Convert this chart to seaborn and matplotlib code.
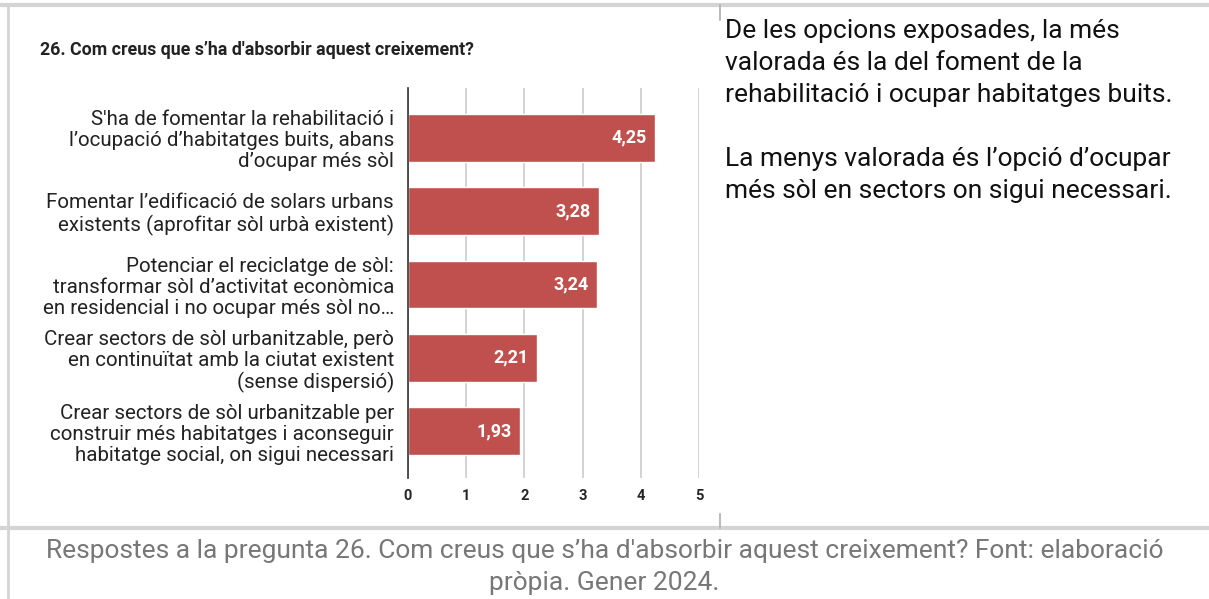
import matplotlib
matplotlib.use("Agg")
import matplotlib.pyplot as plt
import seaborn as sns
import pandas as pd
from matplotlib.lines import Line2D

categories = [
    "S'ha de fomentar la rehabilitació i\nl’ocupació d’habitatges buits, abans\nd’ocupar més sòl",
    "Fomentar l’edificació de solars urbans\nexistents (aprofitar sòl urbà existent)",
    "Potenciar el reciclatge de sòl:\ntransformar sòl d’activitat econòmica\nen residencial i no ocupar més sòl no…",
    "Crear sectors de sòl urbanitzable, però\nen continuïtat amb la ciutat existent\n(sense dispersió)",
    "Crear sectors de sòl urbanitzable per\nconstruir més habitatges i aconseguir\nhabitatge social, on sigui necessari",
]
values = [4.25, 3.28, 3.24, 2.21, 1.93]
value_labels = ["4,25", "3,28", "3,24", "2,21", "1,93"]
x_ticks = [0, 1, 2, 3, 4, 5]

df = pd.DataFrame({"opcio": categories, "valor": values})

sns.set_style("white")
plt.rcParams["font.family"] = ["Roboto", "DejaVu Sans"]

fig = plt.figure(figsize=(12.09, 5.99), dpi=100)
ax = fig.add_axes([408 / 1209, 1 - 478 / 599, 291 / 1209, 390 / 599])

sns.barplot(data=df, x="valor", y="opcio", color="#c0504d", width=0.65,
            saturation=1, ax=ax, zorder=3)

ax.set_xlim(0, 5)
ax.set_ylim(4.64, -0.68)
ax.set_xticks(x_ticks)
ax.set_xticklabels([str(t) for t in x_ticks], fontsize=10.5, fontweight="bold")
ax.set_yticks(range(len(categories)))
ax.set_yticklabels(categories, fontsize=14.8, color="#222222", linespacing=1.14)
ax.tick_params(axis="y", length=0, pad=10)
ax.tick_params(axis="x", length=0, pad=8)
ax.set_xlabel("")
ax.set_ylabel("")
ax.grid(axis="x", color="#cccccc", linewidth=1.2, zorder=0)
for s in ["top", "right", "bottom"]:
    ax.spines[s].set_visible(False)
ax.spines["left"].set_color("#333333")
ax.spines["left"].set_linewidth(1.2)
ax.spines["left"].set_zorder(4)

for i, (v, lab) in enumerate(zip(values, value_labels)):
    ax.text(v - 0.14, i, lab, ha="right", va="center", color="white",
            fontsize=13, fontweight="bold", zorder=5)

fig.text(40 / 1209, 1 - 50 / 599,
         "26. Com creus que s’ha d'absorbir aquest creixement?",
         fontsize=12.8, fontweight="bold", color="#222222", va="center")

fig.text(725 / 1209, 1 - 19 / 599,
         "De les opcions exposades, la més\nvalorada és la del foment de la\n"
         "rehabilitació i ocupar habitatges buits.\n\n"
         "La menys valorada és l’opció d’ocupar\nmés sòl en sectors on sigui necessari.",
         fontsize=19, color="#111111", va="top", ha="left", linespacing=1.42)

fig.text(0.5, 1 - 567 / 599,
         "Respostes a la pregunta 26. Com creus que s’ha d'absorbir aquest creixement? Font: elaboració\npròpia. Gener 2024.",
         fontsize=19, color="#777777", ha="center", va="center", linespacing=1.45)

# table borders
border = "#d4d4d4"
fig.add_artist(Line2D([0, 1], [1 - 5 / 599, 1 - 5 / 599], color=border, lw=3))
fig.add_artist(Line2D([8 / 1209, 8 / 1209], [0, 1 - 5 / 599], color=border, lw=2))
fig.add_artist(Line2D([0, 1], [1 - 528 / 599, 1 - 528 / 599], color=border, lw=3))
fig.add_artist(Line2D([720 / 1209, 720 / 1209], [1 - 5 / 599, 1 - 20 / 599], color="#bbbbbb", lw=1.5))
fig.add_artist(Line2D([720 / 1209, 720 / 1209], [1 - 514 / 599, 1 - 528 / 599], color="#bbbbbb", lw=1.5))

fig.savefig("out.png", dpi=100)
